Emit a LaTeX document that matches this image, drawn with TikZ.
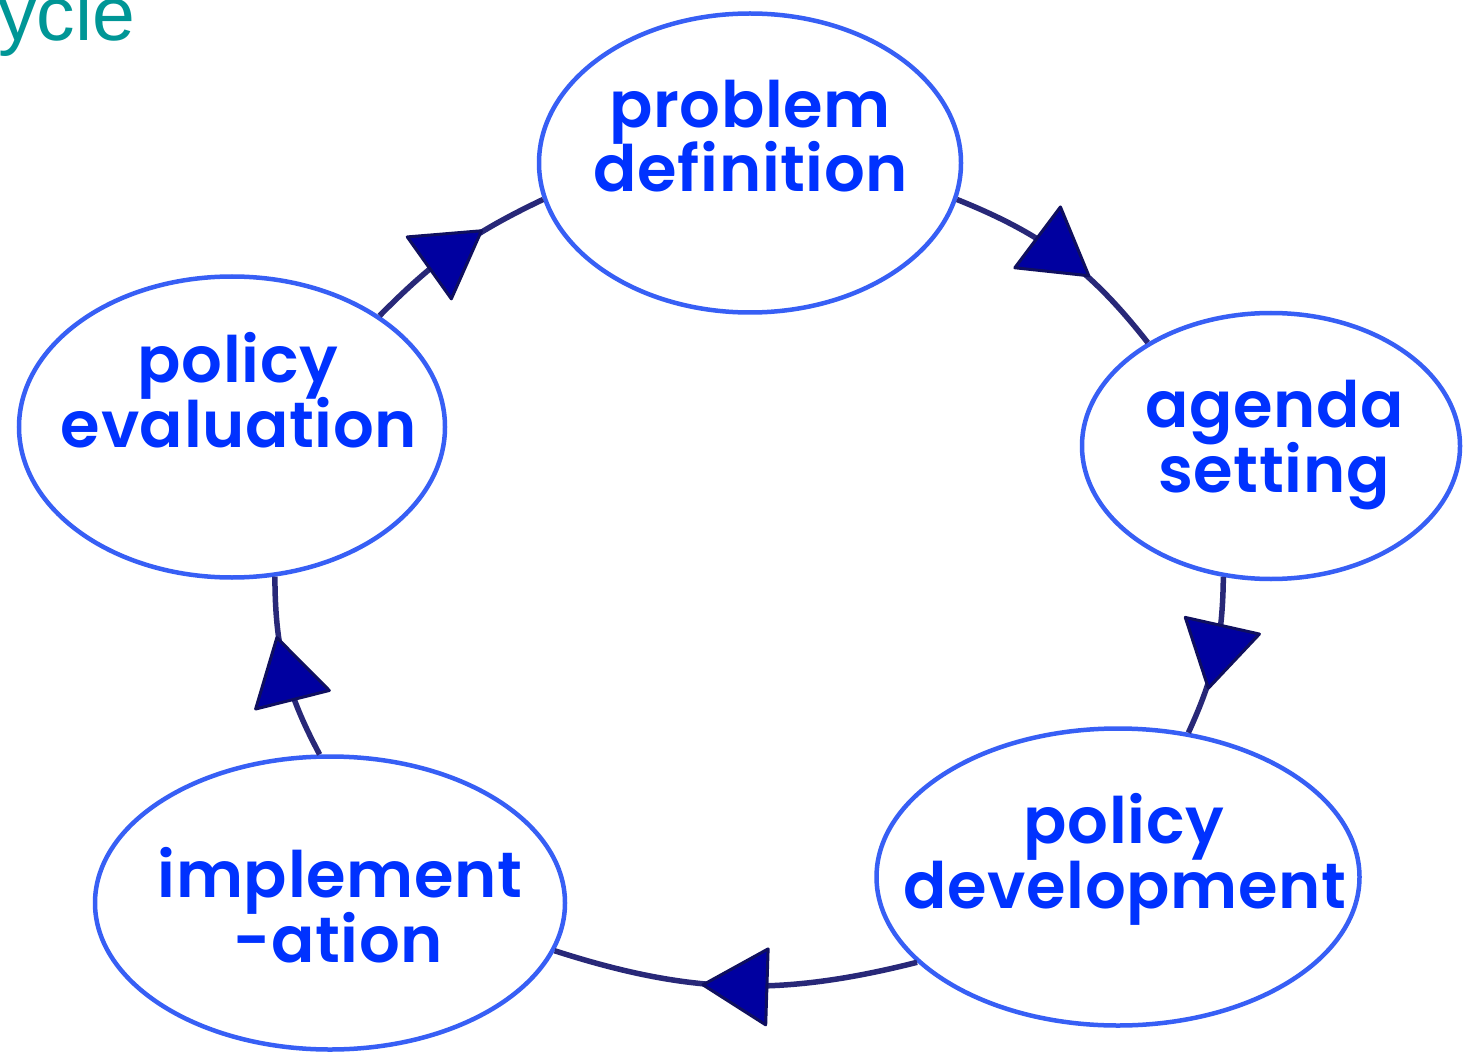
\documentclass[tikz,border=0pt]{standalone}
\usepackage{fontspec}
\newfontfamily\lblfont{Poppins SemiBold}[Ligatures=CommonOff, LetterSpace=1]
\newfontfamily\ttlfont{Liberation Sans}
\usetikzlibrary{shapes.geometric,decorations.markings}
\definecolor{ellblue}{RGB}{55,95,245}
\definecolor{txtblue}{RGB}{0,50,255}
\definecolor{navyline}{RGB}{40,40,120}
\definecolor{headfill}{RGB}{0,0,160}
\definecolor{headline}{RGB}{15,15,95}
\definecolor{titleteal}{RGB}{0,150,150}
\begin{document}
\begin{tikzpicture}[x=1pt,y=1pt,
  stage/.style={ellipse, draw=ellblue, line width=4.5pt, inner sep=0pt},
  lbl/.style={anchor=base, inner sep=0pt, text=txtblue, font=\lblfont\fontsize{64}{64}\selectfont},
  conn/.style={draw=navyline, line width=5.5pt, postaction={decorate},
    decoration={markings, mark=at position 0.5 with {\draw[headline, fill=headfill, line width=3pt, line join=round] (32pt,0pt) -- (-32pt,38pt) -- (-32pt,-38pt) -- cycle;}}}]
\fill[white] (0,0) rectangle (1472,-1056);
\useasboundingbox (0,0) rectangle (1472,-1056);

\node[anchor=base west, inner sep=0pt, text=titleteal, font=\ttlfont\fontsize{77}{77}\selectfont] (ttl) at (-2,-41) {ycle};

\node[stage, minimum width=422pt, minimum height=299pt] (pd) at (750,-163) {};
\node[stage, minimum width=378pt, minimum height=266pt] (as) at (1271,-446) {};
\node[stage, minimum width=483pt, minimum height=297pt] (dv) at (1118,-877) {};
\node[stage, minimum width=470pt, minimum height=293pt] (im) at (330,-903) {};
\node[stage, minimum width=426pt, minimum height=301pt] (ev) at (232,-427) {};

\node[lbl] (pd1) at (750,-128) {problem};
\node[lbl] (pd2) at (751,-192) {definition};
\node[lbl] (as1) at (1275,-427) {agenda};
\node[lbl] (as2) at (1274,-492) {setting};
\node[lbl] (dv1) at (1124,-843) {policy};
\node[lbl] (dv2) at (1125,-908) {development};
\node[lbl] (im1) at (340,-897) {implement};
\node[lbl] (im2) at (338,-962) {-ation};
\node[lbl] (ev1) at (238,-382) {policy};
\node[lbl] (ev2) at (239,-447) {evaluation};

\draw[conn] (pd.-10) to[bend left=15] (as.140);
\draw[conn] (as.-110) to[bend left=12] (dv.64);
\draw[conn] (dv.203) to[bend left=16] (im.-12);
\draw[conn] (im.94) to[bend left=14] (ev.-74);
\draw[conn] (ev.37) to[bend left=10] (pd.190);
\end{tikzpicture}
\end{document}
